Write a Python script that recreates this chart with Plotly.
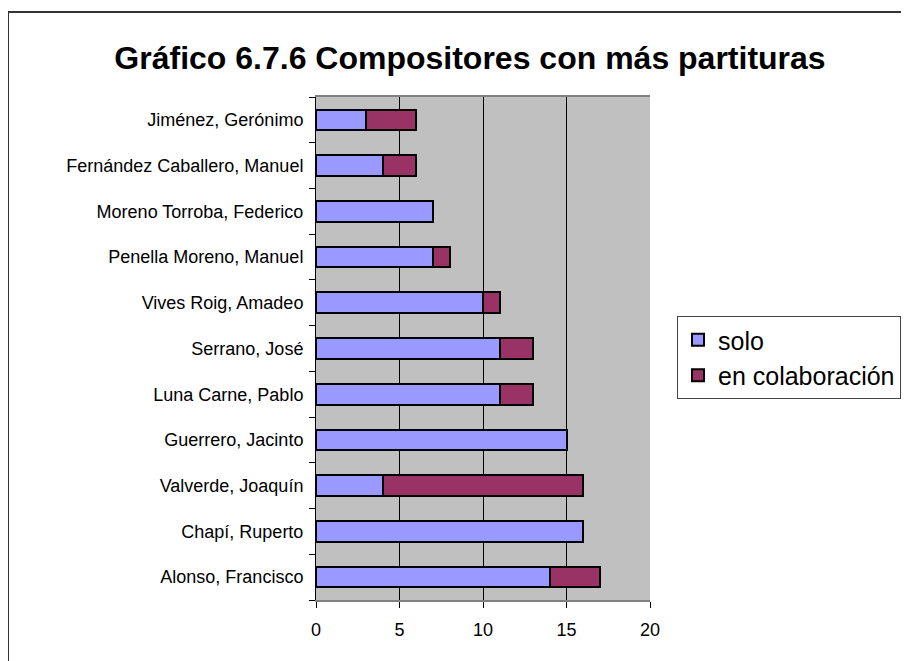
import plotly.graph_objects as go

# composers, listed bottom to top
compositores = [
    "Alonso, Francisco",
    "Chapí, Ruperto",
    "Valverde, Joaquín",
    "Guerrero, Jacinto",
    "Luna Carne, Pablo",
    "Serrano, José",
    "Vives Roig, Amadeo",
    "Penella Moreno, Manuel",
    "Moreno Torroba, Federico",
    "Fernández Caballero, Manuel",
    "Jiménez, Gerónimo",
]
solo = [14, 16, 4, 15, 11, 11, 10, 7, 7, 4, 3]
colaboracion = [3, 0, 12, 0, 2, 2, 1, 1, 0, 2, 3]
x_ticks = [0, 5, 10, 15, 20]

# page body has an 8px margin, so the figure is a bit smaller than the window
W, H = 901, 653
L, R, T, B = 308, 259, 89, 61
pw, ph = W - L - R, H - T - B

def px_x(p):
    return (p - L) / pw

def px_y(p):
    return (H - B - p) / ph

fig = go.Figure()
fig.add_trace(go.Bar(
    y=compositores, x=solo, name="solo", orientation="h",
    marker=dict(color="#9999FF", line=dict(color="black", width=2)),
))
fig.add_trace(go.Bar(
    y=compositores, x=colaboracion, name="en colaboración", orientation="h",
    marker=dict(color="#993366", line=dict(color="black", width=2)),
))

fig.update_layout(
    barmode="stack",
    bargap=0.55,
    width=W, height=H,
    autosize=False,
    margin=dict(l=L, r=R, t=T, b=B, autoexpand=False),
    paper_bgcolor="white",
    plot_bgcolor="#C0C0C0",
    font=dict(family="Liberation Sans, Arial", size=18, color="black"),
    title=dict(
        text="<b>Gráfico 6.7.6 Compositores con más partituras</b>",
        x=462 / W, xanchor="center", y=1 - 50 / H, yanchor="middle",
        font=dict(size=32),
    ),
    legend=dict(
        x=px_x(669), y=px_y(308), xanchor="left", yanchor="top",
        bordercolor="#444444", borderwidth=1,
        font=dict(size=25), bgcolor="white",
        traceorder="normal", tracegroupgap=0, itemwidth=30,
    ),
)
fig.update_xaxes(
    range=[0, 20], tickvals=x_ticks,
    showgrid=True, gridcolor="black", gridwidth=1,
    ticks="outside", ticklen=6, tickcolor="black",
    ticklabelstandoff=6,
    showline=True, linecolor="#808080", linewidth=2, mirror=True,
    zeroline=False, fixedrange=True,
)
fig.update_yaxes(
    tickson="boundaries", ticks="outside", ticklen=6, tickcolor="black",
    ticklabelstandoff=8,
    showline=True, linecolor="black", linewidth=1,
    showgrid=False, fixedrange=True,
)

# outer chart frame
fig.add_shape(
    type="rect", xref="paper", yref="paper",
    x0=px_x(0), x1=px_x(960), y0=px_y(700), y1=px_y(4),
    line=dict(color="#333333", width=2), fillcolor="rgba(0,0,0,0)",
)

fig.write_html("out.html")
